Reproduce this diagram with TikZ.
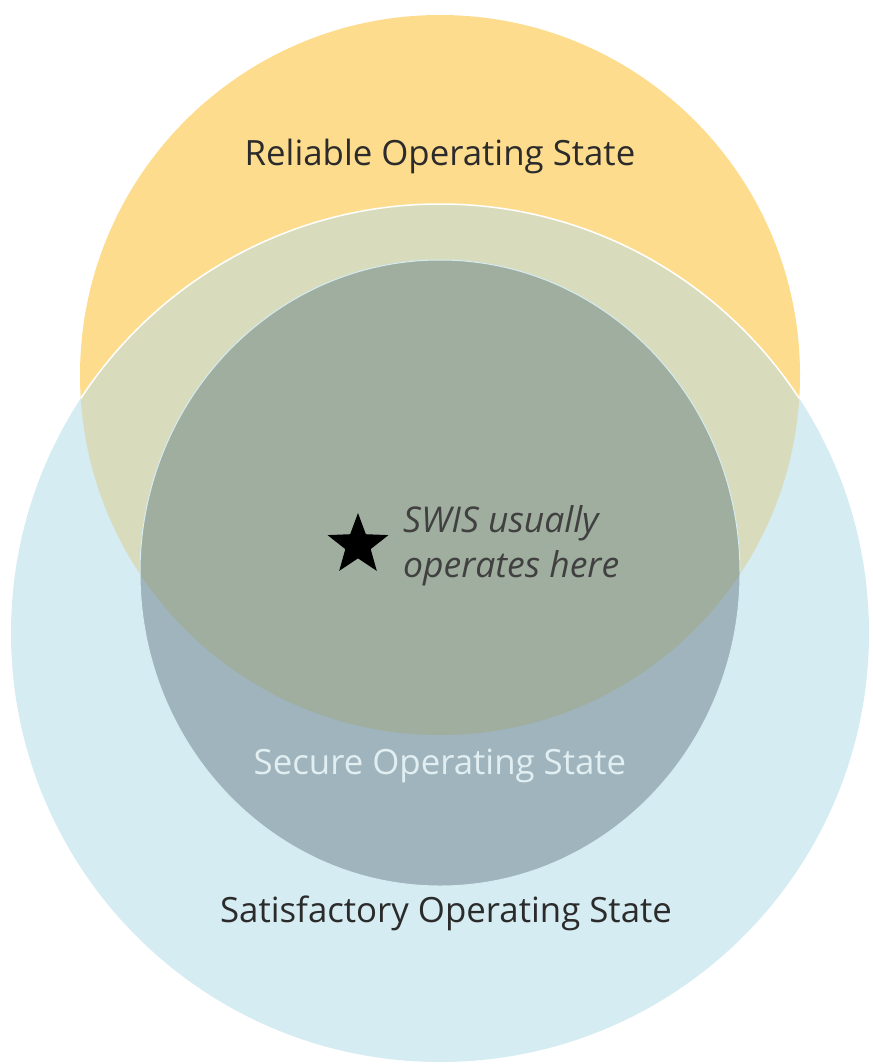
\documentclass[tikz,border=0pt]{standalone}
\usepackage{fontspec}
\setmainfont{Open Sans}
\usetikzlibrary{shapes.geometric}
\definecolor{relY}{HTML}{FEDC8D}
\definecolor{satB}{HTML}{D5ECF2}
\definecolor{ovl}{HTML}{D8DCBC}
\definecolor{secB}{HTML}{9FB4BC}
\definecolor{secG}{HTML}{A0AE9F}
\definecolor{txt}{HTML}{2B2B2B}
\definecolor{sectxt}{HTML}{E2EFF2}
\tikzset{
  lbl/.style={font=\fontsize{34.8}{40}\selectfont, text=txt, inner sep=0pt},
  note/.style={font=\fontsize{35.5}{45}\selectfont\itshape, text=txt!90!white, inner sep=0pt, align=left},
}
\begin{document}
\begin{tikzpicture}[x=1pt,y=-1pt]
\useasboundingbox (0,0) rectangle (872,1064);
\clip (0,0) rectangle (872,1064);
% circles
\fill[relY] (440,375) circle[radius=360];
\fill[satB] (440,633) circle[radius=429];
\begin{scope}
  \clip (440,375) circle[radius=360];
  \fill[ovl] (440,633) circle[radius=429];
  \draw[white, line width=1.5pt] (440,633) circle[radius=429];
\end{scope}
\fill[secB] (440,573) ellipse[x radius=300, y radius=313];
\begin{scope}
  \clip (440,375) circle[radius=360];
  \fill[secG] (440,573) ellipse[x radius=300, y radius=313];
\end{scope}
\draw[satB, line width=1pt] (440,573) ellipse[x radius=300, y radius=313];
% labels
\node[lbl] (rel) at (440,156) {Reliable Operating State};
\node[lbl, text=sectxt] (sec) at (440,766) {Secure Operating State};
\node[lbl] (sat) at (446,913) {Satisfactory Operating State};
\node[star, star points=5, star point ratio=2.4, fill=black, minimum size=64pt, inner sep=0pt] (st) at (358,545) {};
\node[note, anchor=west] (swis) at (403,546) {SWIS usually\\operates here};
\end{tikzpicture}
\end{document}
